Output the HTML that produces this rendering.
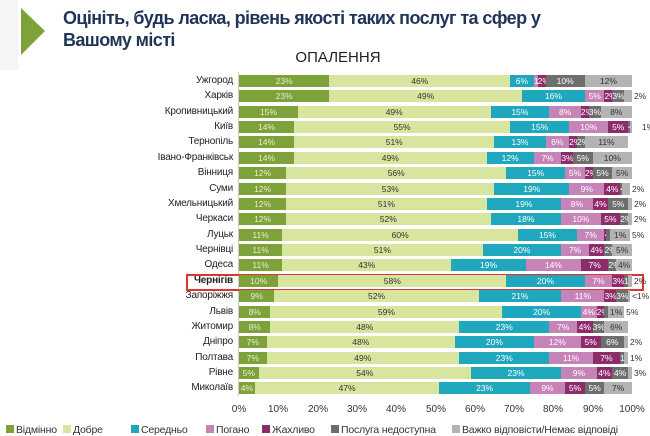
<!DOCTYPE html>
<html><head><meta charset="utf-8"><style>
body{margin:0;width:650px;height:433px;overflow:hidden;background:#fff;font-family:"Liberation Sans",sans-serif;position:relative}
.t{position:absolute;left:63px;top:7px;font-size:18px;font-weight:bold;color:#1f3458;line-height:22px;letter-spacing:-0.6px}
.h{position:absolute;left:0;width:650px;top:49px;text-align:center;padding-left:26px;box-sizing:border-box;font-size:15px;color:#222}
.c{position:absolute;right:417px;font-size:10px;color:#222;line-height:12px;text-align:right;letter-spacing:-0.2px}
.r{position:absolute;left:239px;width:393px;height:12px;display:flex}
.r span{position:relative;height:12px;line-height:12px;font-size:8.5px;text-align:center;white-space:nowrap;overflow:visible;flex:none}
.r i{position:absolute;left:100%;margin-left:2px;font-style:normal;color:#333}
.a{background:#7ea23a;color:#e6efcc}.b{background:#d8e59e;color:#333}.c1{background:#1ea7bd;color:#fff}.d{background:#c683b7;color:#fff}.e{background:#8e2b6b;color:#fff}.f{background:#6e6e6e;color:#fff}.g{background:#b3b3b3;color:#333}
.x{position:absolute;top:404px;font-size:10px;color:#333;width:40px;margin-left:-20px;text-align:center}
.l{position:absolute;top:424px;font-size:10.5px;color:#333;white-space:nowrap;letter-spacing:-0.2px}
.l b{display:inline-block;width:8px;height:8px;margin-right:2px}
</style></head><body>
<svg style="position:absolute;left:0;top:0" width="60" height="70"><polygon points="0,0 18,0 18,70 0,70" fill="#f5f5f5"/><polygon points="21,8 45,31 21,55" fill="#7ea23a"/></svg>
<div class="t">Оцініть, будь ласка, рівень якості таких послуг та сфер у<br>Вашому місті</div>
<div class="h">ОПАЛЕННЯ</div>
<div style="position:absolute;left:238px;top:72px;width:1px;height:324px;background:#ccc"></div>
<div style="position:absolute;left:186px;top:274px;width:454px;height:13px;border:2px solid #d33"></div>

<div class="c" style="top:75px">Ужгород</div>
<div class="r" style="top:75px"><span class="a" style="width:23%">23%</span><span class="b" style="width:46%">46%</span><span class="c1" style="width:6%">6%</span><span class="d" style="width:1%">1%</span><span class="e" style="width:2%">2%</span><span class="f" style="width:10%">10%</span><span class="g" style="width:12%">12%</span></div>
<div class="c" style="top:90px">Харків</div>
<div class="r" style="top:90px"><span class="a" style="width:23%">23%</span><span class="b" style="width:49%">49%</span><span class="c1" style="width:16%">16%</span><span class="d" style="width:5%">5%</span><span class="e" style="width:2%">2%</span><span class="f" style="width:3%">3%</span><span class="g" style="width:2%"><i>2%</i></span></div>
<div class="c" style="top:106px">Кропивницький</div>
<div class="r" style="top:106px"><span class="a" style="width:15%">15%</span><span class="b" style="width:49%">49%</span><span class="c1" style="width:15%">15%</span><span class="d" style="width:8%">8%</span><span class="e" style="width:2%">2%</span><span class="f" style="width:3%">3%</span><span class="g" style="width:8%">8%</span></div>
<div class="c" style="top:121px">Київ</div>
<div class="r" style="top:121px"><span class="a" style="width:14%">14%</span><span class="b" style="width:55%">55%</span><span class="c1" style="width:15%">15%</span><span class="d" style="width:10%">10%</span><span class="e" style="width:5%">5%</span><span class="f" style="width:0.5%">&lt;1%</span><span class="g" style="width:0.5%"><i style="margin-left:10px">1%</i></span></div>
<div class="c" style="top:136px">Тернопіль</div>
<div class="r" style="top:136px"><span class="a" style="width:14%">14%</span><span class="b" style="width:51%">51%</span><span class="c1" style="width:13%">13%</span><span class="d" style="width:6%">6%</span><span class="e" style="width:2%">2%</span><span class="f" style="width:2%">2%</span><span class="g" style="width:11%">11%</span></div>
<div class="c" style="top:152px">Івано-Франківськ</div>
<div class="r" style="top:152px"><span class="a" style="width:14%">14%</span><span class="b" style="width:49%">49%</span><span class="c1" style="width:12%">12%</span><span class="d" style="width:7%">7%</span><span class="e" style="width:3%">3%</span><span class="f" style="width:5%">5%</span><span class="g" style="width:10%">10%</span></div>
<div class="c" style="top:167px">Вінниця</div>
<div class="r" style="top:167px"><span class="a" style="width:12%">12%</span><span class="b" style="width:56%">56%</span><span class="c1" style="width:15%">15%</span><span class="d" style="width:5%">5%</span><span class="e" style="width:2%">2%</span><span class="f" style="width:5%">5%</span><span class="g" style="width:5%">5%</span></div>
<div class="c" style="top:183px">Суми</div>
<div class="r" style="top:183px"><span class="a" style="width:12%">12%</span><span class="b" style="width:53%">53%</span><span class="c1" style="width:19%">19%</span><span class="d" style="width:9%">9%</span><span class="e" style="width:4%">4%</span><span class="f" style="width:0.5%">&lt;1%</span><span class="g" style="width:2%"><i>2%</i></span></div>
<div class="c" style="top:198px">Хмельницький</div>
<div class="r" style="top:198px"><span class="a" style="width:12%">12%</span><span class="b" style="width:51%">51%</span><span class="c1" style="width:19%">19%</span><span class="d" style="width:8%">8%</span><span class="e" style="width:4%">4%</span><span class="f" style="width:5%">5%</span><span class="g" style="width:1%"><i>2%</i></span></div>
<div class="c" style="top:213px">Черкаси</div>
<div class="r" style="top:213px"><span class="a" style="width:12%">12%</span><span class="b" style="width:52%">52%</span><span class="c1" style="width:18%">18%</span><span class="d" style="width:10%">10%</span><span class="e" style="width:5%">5%</span><span class="f" style="width:2%">2%</span><span class="g" style="width:1%"><i>2%</i></span></div>
<div class="c" style="top:229px">Луцьк</div>
<div class="r" style="top:229px"><span class="a" style="width:11%">11%</span><span class="b" style="width:60%">60%</span><span class="c1" style="width:15%">15%</span><span class="d" style="width:7%">7%</span><span class="e" style="width:0.5%">&lt;1%</span><span class="f" style="width:1%"></span><span class="g" style="width:5%">1%<i>5%</i></span></div>
<div class="c" style="top:244px">Чернівці</div>
<div class="r" style="top:244px"><span class="a" style="width:11%">11%</span><span class="b" style="width:51%">51%</span><span class="c1" style="width:20%">20%</span><span class="d" style="width:7%">7%</span><span class="e" style="width:4%">4%</span><span class="f" style="width:2%">2%</span><span class="g" style="width:5%">5%</span></div>
<div class="c" style="top:259px">Одеса</div>
<div class="r" style="top:259px"><span class="a" style="width:11%">11%</span><span class="b" style="width:43%">43%</span><span class="c1" style="width:19%">19%</span><span class="d" style="width:14%">14%</span><span class="e" style="width:7%">7%</span><span class="f" style="width:2%">2%</span><span class="g" style="width:4%">4%</span></div>
<div class="c" style="top:275px;font-weight:bold">Чернігів</div>
<div class="r" style="top:275px"><span class="a" style="width:10%">10%</span><span class="b" style="width:58%">58%</span><span class="c1" style="width:20%">20%</span><span class="d" style="width:7%">7%</span><span class="e" style="width:3%">3%</span><span class="f" style="width:1%">1%</span><span class="g" style="width:1%"><i>2%</i></span></div>
<div class="c" style="top:290px">Запоріжжя</div>
<div class="r" style="top:290px"><span class="a" style="width:9%">9%</span><span class="b" style="width:52%">52%</span><span class="c1" style="width:21%">21%</span><span class="d" style="width:11%">11%</span><span class="e" style="width:3%">3%</span><span class="f" style="width:3%">3%</span><span class="g" style="width:0.5%"><i>&lt;1%</i></span></div>
<div class="c" style="top:306px">Львів</div>
<div class="r" style="top:306px"><span class="a" style="width:8%">8%</span><span class="b" style="width:59%">59%</span><span class="c1" style="width:20%">20%</span><span class="d" style="width:4%">4%</span><span class="e" style="width:2%">2%</span><span class="f" style="width:1%"></span><span class="g" style="width:4%">1%<i>5%</i></span></div>
<div class="c" style="top:321px">Житомир</div>
<div class="r" style="top:321px"><span class="a" style="width:8%">8%</span><span class="b" style="width:48%">48%</span><span class="c1" style="width:23%">23%</span><span class="d" style="width:7%">7%</span><span class="e" style="width:4%">4%</span><span class="f" style="width:3%">3%</span><span class="g" style="width:6%">6%</span></div>
<div class="c" style="top:336px">Дніпро</div>
<div class="r" style="top:336px"><span class="a" style="width:7%">7%</span><span class="b" style="width:48%">48%</span><span class="c1" style="width:20%">20%</span><span class="d" style="width:12%">12%</span><span class="e" style="width:5%">5%</span><span class="f" style="width:6%">6%</span><span class="g" style="width:1%"><i>2%</i></span></div>
<div class="c" style="top:352px">Полтава</div>
<div class="r" style="top:352px"><span class="a" style="width:7%">7%</span><span class="b" style="width:49%">49%</span><span class="c1" style="width:23%">23%</span><span class="d" style="width:11%">11%</span><span class="e" style="width:7%">7%</span><span class="f" style="width:1%">1%</span><span class="g" style="width:1%"><i>1%</i></span></div>
<div class="c" style="top:367px">Рівне</div>
<div class="r" style="top:367px"><span class="a" style="width:5%">5%</span><span class="b" style="width:54%">54%</span><span class="c1" style="width:23%">23%</span><span class="d" style="width:9%">9%</span><span class="e" style="width:4%">4%</span><span class="f" style="width:4%">4%</span><span class="g" style="width:1%"><i>3%</i></span></div>
<div class="c" style="top:382px">Миколаїв</div>
<div class="r" style="top:382px"><span class="a" style="width:4%">4%</span><span class="b" style="width:47%">47%</span><span class="c1" style="width:23%">23%</span><span class="d" style="width:9%">9%</span><span class="e" style="width:5%">5%</span><span class="f" style="width:5%">5%</span><span class="g" style="width:7%">7%</span></div>

<div class="x" style="left:239px">0%</div><div class="x" style="left:278px">10%</div><div class="x" style="left:318px">20%</div><div class="x" style="left:357px">30%</div><div class="x" style="left:396px">40%</div><div class="x" style="left:436px">50%</div><div class="x" style="left:475px">60%</div><div class="x" style="left:514px">70%</div><div class="x" style="left:553px">80%</div><div class="x" style="left:593px">90%</div><div class="x" style="left:632px">100%</div>

<div class="l" style="left:6px"><b class="a"></b>Відмінно</div>
<div class="l" style="left:63px"><b class="b"></b>Добре</div>
<div class="l" style="left:131px"><b class="c1"></b>Середньо</div>
<div class="l" style="left:206px"><b class="d"></b>Погано</div>
<div class="l" style="left:262px"><b class="e"></b>Жахливо</div>
<div class="l" style="left:331px"><b class="f"></b>Послуга недоступна</div>
<div class="l" style="left:452px"><b class="g"></b>Важко відповісти/Немає відповіді</div>
</body></html>
